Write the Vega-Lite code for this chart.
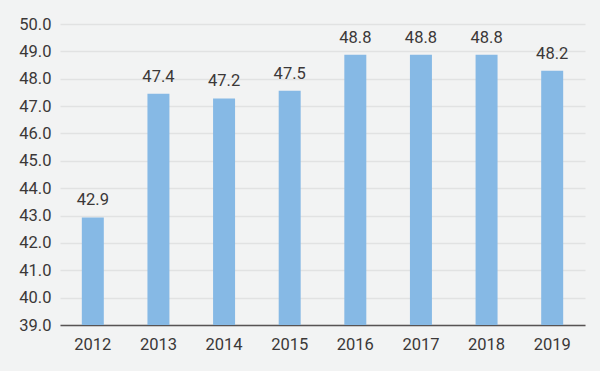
{
  "$schema": "https://vega.github.io/schema/vega-lite/v6.json",
  "width": 525,
  "height": 301,
  "autosize": {"type": "none"},
  "padding": {"left": 60, "top": 24, "right": 15, "bottom": 46},
  "background": "#f2f3f3",
  "config": {
    "view": {"stroke": null},
    "font": "Roboto",
    "axis": {"labelFont": "Roboto", "labelFontSize": 16.5, "labelColor": "#3b3838", "ticks": false, "title": null}
  },
  "data": {
    "values": [
      {"year": "2012", "value": 42.93, "label": "42.9"},
      {"year": "2013", "value": 47.45, "label": "47.4"},
      {"year": "2014", "value": 47.28, "label": "47.2"},
      {"year": "2015", "value": 47.56, "label": "47.5"},
      {"year": "2016", "value": 48.88, "label": "48.8"},
      {"year": "2017", "value": 48.88, "label": "48.8"},
      {"year": "2018", "value": 48.88, "label": "48.8"},
      {"year": "2019", "value": 48.29, "label": "48.2"}
    ]
  },
  "encoding": {
    "x": {
      "field": "year",
      "type": "nominal",
      "sort": null,
      "scale": {"paddingInner": 0.665, "paddingOuter": 0.3325},
      "axis": {"labelAngle": 0, "labelPadding": 11, "domainColor": "#575353", "domainWidth": 1.5, "grid": false}
    },
    "y": {
      "field": "value",
      "type": "quantitative",
      "scale": {"domain": [39, 50], "zero": false, "nice": false},
      "axis": {"values": [39, 40, 41, 42, 43, 44, 45, 46, 47, 48, 49, 50], "format": ".1f", "domain": false, "labelPadding": 9, "gridColor": "#e1e2e2", "gridWidth": 1.5}
    }
  },
  "layer": [
    {"mark": {"type": "bar", "color": "#86b9e5"}, "encoding": {"y2": {"datum": 39}}},
    {
      "mark": {"type": "text", "baseline": "alphabetic", "dy": -12, "fontSize": 16.5, "color": "#3b3838", "font": "Roboto"},
      "encoding": {"text": {"field": "label"}}
    }
  ]
}
